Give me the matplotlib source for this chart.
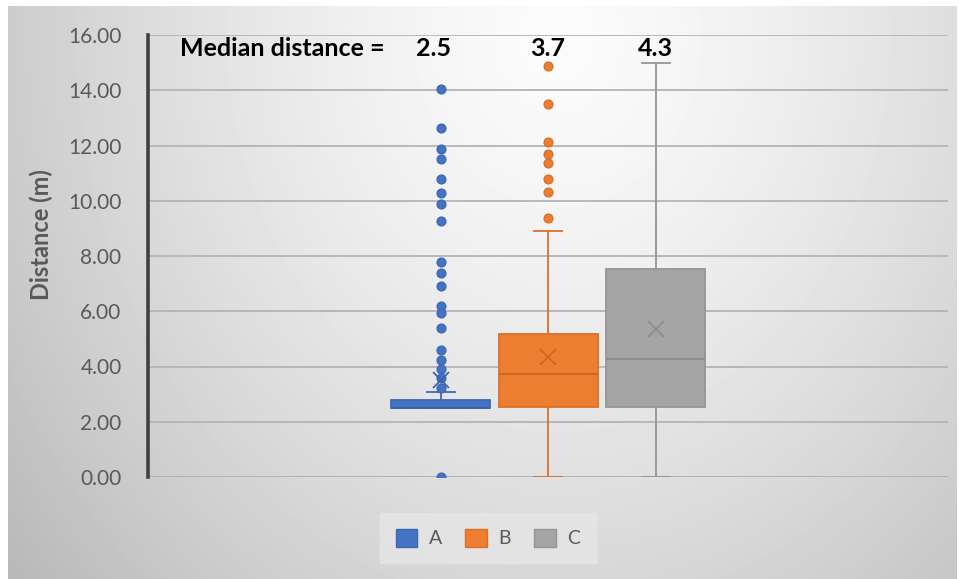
import numpy as np
import matplotlib.pyplot as plt
from matplotlib.patches import Patch

plt.rcParams['font.family'] = ['Lato', 'DejaVu Sans']

# box plot summary per group
groups = ["A", "B", "C"]
q1 = [2.5, 2.52, 2.52]
medians = [2.5, 3.73, 4.28]
q3 = [2.78, 5.18, 7.52]
whislo = [2.5, 0.0, 0.0]
whishi = [3.08, 8.89, 15.0]
means = [3.5, 4.34, 5.35]
outliers_a = [14.05, 12.63, 11.87, 11.51, 10.79, 10.28, 9.89, 9.25, 7.80, 7.38,
              6.90, 6.20, 5.93, 5.39, 4.60, 4.24, 3.90, 3.58, 3.21, 0.0]
outliers_b = [14.87, 13.50, 12.13, 11.70, 11.36, 10.78, 10.30, 9.37]
outliers_c = []
median_labels = ["2.5", "3.7", "4.3"]

fills = ["#4472c4", "#ed7d31", "#a5a5a5"]
edges = ["#3f68b4", "#d9712a", "#959595"]
marks = ["#3a64b0", "#c9631f", "#8a8a8a"]

fig = plt.figure(figsize=(9.59, 5.79), dpi=100)
fig.patch.set_facecolor("white")

# gradient background (excel style chart area)
bg = fig.add_axes([8 / 959, 0, 949 / 959, 573 / 579], zorder=-5)
yy, xx = np.mgrid[0:573, 0:949]
d = np.sqrt(((xx - 550) / 520.0) ** 2 + ((yy - 30) / 620.0) ** 2)
val = 0.985 - 0.17 * np.clip(d, 0, 1.4) ** 1.4
bg.imshow(val, cmap="gray", vmin=0, vmax=1, aspect="auto", interpolation="bilinear")
bg.axis("off")

ax = fig.add_axes([148 / 959, 102 / 579, 800 / 959, 442 / 579])
ax.patch.set_alpha(0)

positions = [-1.075, 0.0, 1.075]
outl = [outliers_a, outliers_b, outliers_c]
for i in range(3):
    st = [dict(med=medians[i], q1=q1[i], q3=q3[i], whislo=whislo[i], whishi=whishi[i],
               mean=means[i], fliers=outl[i], label=groups[i])]
    ax.bxp(st, positions=[positions[i]], widths=0.99, patch_artist=True, showmeans=True,
           capwidths=0.28,
           boxprops=dict(facecolor=fills[i], edgecolor=edges[i], linewidth=1.3),
           medianprops=dict(color=marks[i], linewidth=1.3),
           whiskerprops=dict(color=edges[i], linewidth=1.3),
           capprops=dict(color=edges[i], linewidth=1.3),
           meanprops=dict(marker="x", markersize=12, markeredgecolor=marks[i],
                          markeredgewidth=1.3 if i == 0 else 1.1),
           flierprops=dict(marker="o", markersize=6.3, markerfacecolor=fills[i],
                           markeredgecolor=edges[i], linestyle="none"))

ax.set_xlim(-4, 4)
ax.set_ylim(0, 16)
ax.set_yticks(np.arange(0, 17, 2))
ax.set_yticklabels(["%.2f" % v for v in np.arange(0, 17, 2)], fontsize=15, color="#595959")
ax.set_xticks([])
ax.tick_params(axis="y", length=0, pad=19)
ax.yaxis.grid(True, color="#b4b4b4", linewidth=1.3)
ax.set_axisbelow(True)
for s in ["top", "right", "bottom"]:
    ax.spines[s].set_visible(False)
ax.spines["left"].set_color("#404040")
ax.spines["left"].set_linewidth(2.6)
ax.axhline(0, color="#a8a8a8", linewidth=1.4, zorder=0.5)

ax.set_ylabel("Distance (m)", fontsize=17, color="#595959", fontweight="bold")
ax.yaxis.set_label_coords(-0.119, 0.548)

ax.text(-3.68, 15.52, "Median distance =", fontsize=18, fontweight="bold", ha="left", va="center")
for p, lab in zip(positions, median_labels):
    ax.text(p - 0.07 if lab == "2.5" else p, 15.52, lab, fontsize=18, fontweight="bold",
            ha="center", va="center")

handles = [Patch(facecolor=fills[i], edgecolor=edges[i], label=groups[i]) for i in range(3)]
leg = fig.legend(handles=handles, loc="center", bbox_to_anchor=(488 / 959, 1 - 538 / 579),
                 ncol=3, frameon=True, fontsize=14, handlelength=1.1, handleheight=1.1,
                 columnspacing=1.2, handletextpad=0.6, borderpad=0.8, fancybox=False)
leg.get_frame().set_facecolor("#e6e6e6")
leg.get_frame().set_edgecolor("#e6e6e6")
for t in leg.get_texts():
    t.set_color("#595959")

fig.savefig("out.png", dpi=100)
